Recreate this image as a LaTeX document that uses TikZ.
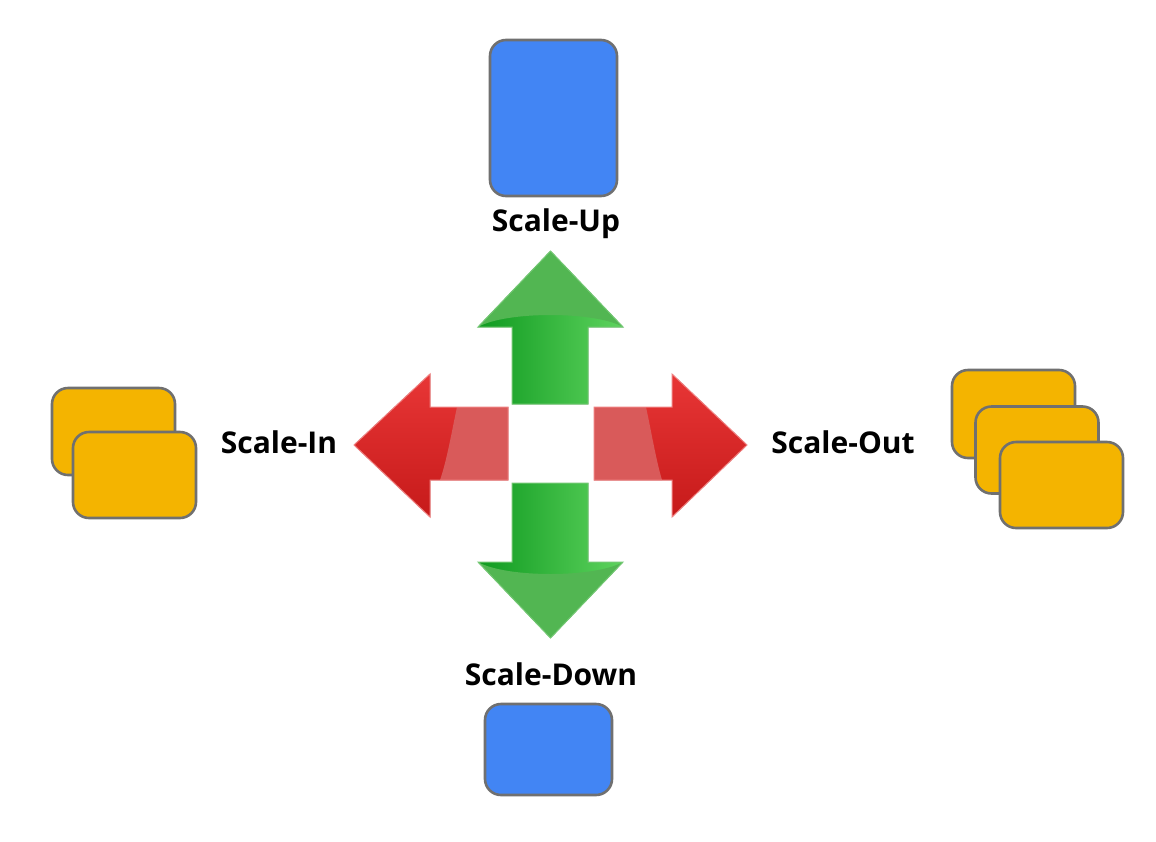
\documentclass[tikz,border=0pt]{standalone}
\usepackage{fontspec}
\setmainfont{Open Sans}
\definecolor{boxblue}{HTML}{4285F4}
\definecolor{boxyellow}{HTML}{F4B400}
\definecolor{boxgray}{HTML}{707070}
\definecolor{gdark}{HTML}{0F9A20}
\definecolor{glight}{HTML}{5ED35E}
\definecolor{ghead}{HTML}{52B652}
\definecolor{gedge}{HTML}{74C874}
\definecolor{rtop}{HTML}{E83636}
\definecolor{rbot}{HTML}{C61A1A}
\definecolor{rshaft}{HTML}{D95A5A}
\definecolor{redge}{HTML}{F08080}
\tikzset{
  card/.style={draw=boxgray, line width=2.6pt, rounded corners=16pt, inner sep=0pt},
  bluecard/.style={card, fill=boxblue},
  yellowcard/.style={card, fill=boxyellow},
  lbl/.style={font=\fontsize{30}{35}\selectfont\bfseries, text=black, inner sep=0pt, anchor=base},
}
\begin{document}
\begin{tikzpicture}[x=1pt,y=-1pt]
\useasboundingbox (0,0) rectangle (1156,841);
\fill[white] (0,0) rectangle (1156,841);

% cards
\node[bluecard, minimum width=127pt, minimum height=156pt] (upbox) at (553.5,118) {};
\node[bluecard, minimum width=127pt, minimum height=91pt] (downbox) at (548.5,749.5) {};
\node[yellowcard, minimum width=123pt, minimum height=87pt] (in1) at (113.5,431.5) {};
\node[yellowcard, minimum width=123pt, minimum height=86pt] (in2) at (134.5,475) {};
\node[yellowcard, minimum width=123pt, minimum height=88pt] (out1) at (1013.5,414) {};
\node[yellowcard, minimum width=123pt, minimum height=87pt] (out2) at (1037,450) {};
\node[yellowcard, minimum width=123pt, minimum height=86pt] (out3) at (1061.5,485) {};

% labels
\node[lbl] (tup) at (556,231) {Scale-Up};
\node[lbl] (tdown) at (551,685) {Scale-Down};
\node[lbl] (tin) at (279,453) {Scale-In};
\node[lbl] (tout) at (843,453) {Scale-Out};

% up arrow
\fill[left color=gdark, right color=glight]
  (512,404) -- (512,327) -- (478,327) -- (550.5,251) -- (623,327) -- (588,327) -- (588,404) -- cycle;
\fill[ghead] (478,327) -- (550.5,251) -- (623,327) .. controls (595,311) and (506,311) .. cycle;
\draw[gedge, line width=1pt, line join=miter]
  (512,404) -- (512,327) -- (478,327) -- (550.5,251) -- (623,327) -- (588,327) -- (588,404) -- cycle;

% down arrow
\fill[left color=gdark, right color=glight]
  (512,483) -- (512,562) -- (478,562) -- (550.5,638) -- (623,562) -- (588,562) -- (588,483) -- cycle;
\fill[ghead] (478,562) .. controls (506,578) and (595,578) .. (623,562) -- (550.5,638) -- cycle;
\draw[gedge, line width=1pt, line join=miter]
  (512,483) -- (512,562) -- (478,562) -- (550.5,638) -- (623,562) -- (588,562) -- (588,483) -- cycle;

% left arrow
\fill[top color=rtop, bottom color=rbot]
  (508,407) -- (430,407) -- (430,374) -- (354,445) -- (430,517) -- (430,480) -- (508,480) -- cycle;
\fill[rshaft] (508,407) -- (457,407) .. controls (452,430) and (447,460) .. (440,480) -- (508,480) -- cycle;
\draw[redge, line width=1pt, line join=miter]
  (508,407) -- (430,407) -- (430,374) -- (354,445) -- (430,517) -- (430,480) -- (508,480) -- cycle;

% right arrow
\fill[top color=rtop, bottom color=rbot]
  (594,407) -- (672,407) -- (672,374) -- (747,445) -- (672,517) -- (672,480) -- (594,480) -- cycle;
\fill[rshaft] (594,407) -- (646,407) .. controls (651,430) and (656,460) .. (662,480) -- (594,480) -- cycle;
\draw[redge, line width=1pt, line join=miter]
  (594,407) -- (672,407) -- (672,374) -- (747,445) -- (672,517) -- (672,480) -- (594,480) -- cycle;
\end{tikzpicture}
\end{document}
